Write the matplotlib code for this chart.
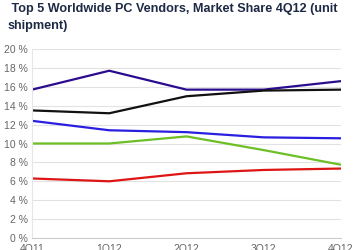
import matplotlib.pyplot as plt

quarters = ['4Q11', '1Q12', '2Q12', '3Q12', '4Q12']
hp = [15.7, 17.7, 15.7, 15.7, 16.6]
lenovo = [13.5, 13.2, 15.0, 15.6, 15.7]
dell = [12.4, 11.4, 11.2, 10.65, 10.55]
acer = [10.0, 10.0, 10.75, 9.3, 7.75]
asus = [6.3, 6.0, 6.85, 7.2, 7.35]

series = [
    (hp, '#2b0c8f'),
    (lenovo, '#111111'),
    (dell, '#2a1ee0'),
    (acer, '#6cbf24'),
    (asus, '#dd1515'),
]

fig = plt.figure(figsize=(3.59, 2.5), dpi=100)
ax = fig.add_axes([32 / 359, 12 / 250, 309 / 359, 189 / 250])

x = range(len(quarters))
for vals, col in series:
    ax.plot(x, vals, color=col, lw=1.6, solid_capstyle='butt')

ax.set_xlim(0, len(quarters) - 1)
ax.set_ylim(0, 20)
ax.set_yticks(range(0, 21, 2))
ax.set_yticklabels([f'{v} %' for v in range(0, 21, 2)],
                   fontsize=7.5, color='#666666', family='Liberation Sans')
ax.set_xticks(list(x))
ax.set_xticklabels(quarters, fontsize=7.5, color='#666666', family='Liberation Sans')
ax.tick_params(length=0, pad=3)
ax.tick_params(axis='x', pad=4)
ax.grid(axis='y', color='#e2e2e2', lw=0.8)
ax.set_axisbelow(True)
for s in ['top', 'right']:
    ax.spines[s].set_visible(False)
ax.spines['left'].set_color('#e6e6e6')
ax.spines['bottom'].set_color('#cccccc')

fig.text(8 / 359, 1 - 3 / 250, ' Top 5 Worldwide PC Vendors, Market Share 4Q12 (unit\nshipment)',
         ha='left', va='top', fontsize=9.1, fontweight='bold', color='#1e2a45',
         family='Liberation Sans', linespacing=1.5)

fig.savefig('out.png', dpi=100)
